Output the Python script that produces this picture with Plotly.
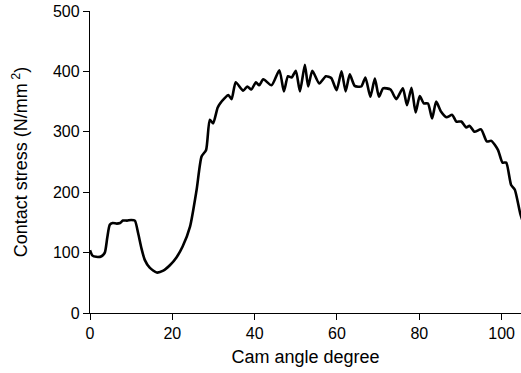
import plotly.graph_objects as go

angle = [0, 0.6, 1.5, 2.8, 3.6, 4.2, 4.8, 5.5, 6.5, 7.3, 8.0, 9.0, 10.0, 10.9, 11.7, 12.5,
         13.3, 14.5, 16.2, 17.8, 19.4, 21.0, 22.5, 24.3, 25.9, 27.1, 28.2, 29.1, 29.9,
         31.0, 31.6, 32.6, 33.6, 34.4, 35.4, 37.2, 38.2, 39.2, 40.3, 41.1, 42.1, 44.1,
         46.0, 47.1, 48.1, 49.0, 50.0, 51.0, 52.2, 53.0, 54.0, 55.7, 57.3, 58.6, 59.9,
         61.1, 62.1, 63.1, 64.3, 65.9, 66.9, 68.1, 69.2, 70.2, 71.2, 73.0, 74.4, 76.0,
         77.0, 78.1, 79.1, 80.1, 81.1, 82.1, 83.1, 84.1, 85.3, 86.6, 88.0, 89.0, 90.2,
         91.4, 92.2, 93.4, 95.0, 96.4, 97.5, 99.1, 100.2, 101.1, 102.3, 103.2, 104.5, 105.2]
stress = [104, 95, 93, 94, 100, 125, 146, 149, 148, 149, 153, 153, 154, 153, 132, 107,
          88, 75, 67, 70, 79, 92, 110, 143, 204, 259, 270, 320, 314,
          340, 347, 355, 361, 354, 382, 368, 375, 370, 382, 377, 387, 377,
          402, 367, 392, 390, 401, 367, 411, 375, 401, 380, 392, 389, 369,
          400, 367, 395, 376, 375, 390, 358, 388, 358, 372, 370, 354, 372,
          344, 373, 332, 359, 347, 347, 322, 350, 333, 324, 328, 317, 317,
          307, 310, 300, 304, 284, 285, 270, 249, 249, 212, 204, 165, 150]

x_ticks = [0, 20, 40, 60, 80, 100]
y_ticks = [0, 100, 200, 300, 400, 500]

fig = go.Figure()
fig.add_trace(go.Scatter(x=angle, y=stress, mode="lines",
                         line=dict(color="black", width=2.6, shape="spline", smoothing=0.6),
                         showlegend=False))

font = dict(family="Liberation Sans, Arial, sans-serif", color="black")
fig.update_layout(
    width=521, height=373,
    margin=dict(l=90, r=0, t=11, b=60, autoexpand=False),
    paper_bgcolor="white", plot_bgcolor="white",
    font=dict(**font, size=16),
    xaxis=dict(range=[0, 104.7], tickvals=x_ticks, ticks="outside", ticklen=6,
               tickwidth=1.3, tickcolor="black", showline=True, linecolor="black",
               linewidth=1.4, showgrid=False, zeroline=False, automargin=False,
               tickfont=dict(size=16),
               title=dict(text="Cam angle degree", font=dict(size=18), standoff=8)),
    yaxis=dict(range=[0, 500], tickvals=y_ticks, ticks="outside", ticklen=6,
               tickwidth=1.3, tickcolor="black", showline=True, linecolor="black",
               linewidth=1.4, showgrid=False, zeroline=False, automargin=False,
               tickfont=dict(size=16),
               title=dict(text="Contact stress (N/mm<sup> 2</sup>)", font=dict(size=18),
                          standoff=20)),
)
fig.write_html("out.html", config={"displayModeBar": False},
               post_script="document.body.style.margin='0';document.body.style.overflow='hidden';")
